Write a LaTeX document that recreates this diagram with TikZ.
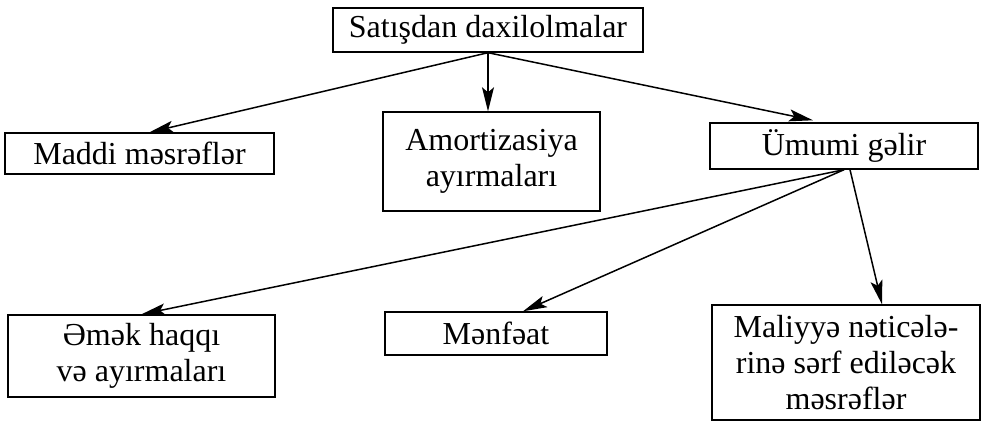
\documentclass[tikz,border=0pt]{standalone}
\usepackage{fontspec}
\setmainfont{Liberation Serif}
\usetikzlibrary{arrows.meta}
\begin{document}
\begin{tikzpicture}[x=1pt,y=-1pt,
  box/.style={draw,line width=1.4pt,inner sep=0pt,align=center,
    font=\fontsize{32}{36}\selectfont},
  arr/.style={line width=1.5pt,-{Stealth[length=24pt,width=12pt,inset=5pt]}}]
\useasboundingbox (0,0) rectangle (982,428);
\node[box,minimum width=310pt,minimum height=44pt] (top) at (488,30) {Satışdan daxilolmalar};
\node[box,minimum width=269pt,minimum height=41pt] (maddi) at (139.5,153.5) {Maddi məsrəflər};
\node[box,minimum width=217pt,minimum height=99pt] (amort) at (491.5,161.5) {Amortizasiya\\ayırmaları};
\node[box,minimum width=268pt,minimum height=46pt] (umumi) at (844,146) {Ümumi gəlir};
\node[box,minimum width=267pt,minimum height=82pt] (emek) at (141.5,356) {Əmək haqqı\\və ayırmaları};
\node[box,minimum width=222pt,minimum height=43pt] (menfeat) at (496,333.5) {Mənfəat};
\node[box,minimum width=268pt,minimum height=115pt] (maliyye) at (846,362.5) {Maliyyə nəticələ-\\rinə sərf ediləcək\\məsrəflər};
\draw[arr] (top.south) -- ([xshift=10pt]maddi.north);
\draw[arr] (top.south) -- (top.south |- amort.north);
\draw[arr] (top.south) -- ([xshift=-31pt,yshift=2pt]umumi.north);
\draw[arr] (umumi.south) -- (emek.north);
\draw[arr] (umumi.south) -- ([xshift=27pt]menfeat.north);
\draw[arr] ([xshift=6pt]umumi.south) -- ([xshift=36pt]maliyye.north);
\end{tikzpicture}
\end{document}
